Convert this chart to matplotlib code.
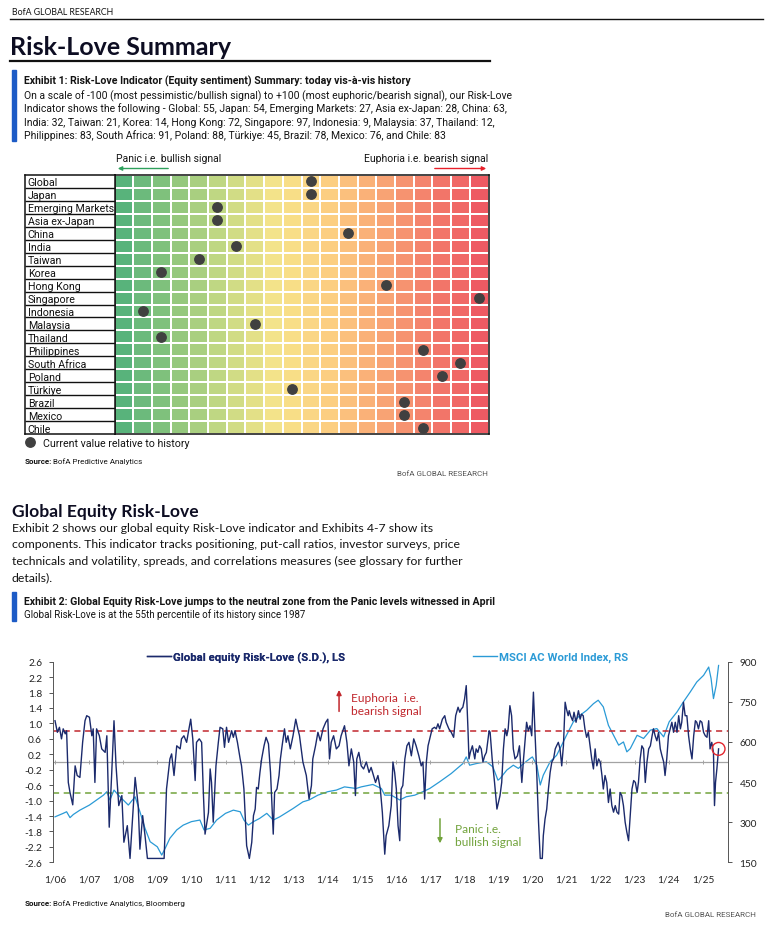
import numpy as np
import matplotlib
matplotlib.use("Agg")
import matplotlib.pyplot as plt
from matplotlib.colors import LinearSegmentedColormap, ListedColormap
from matplotlib.lines import Line2D
from matplotlib.patches import Rectangle, FancyArrowPatch
from matplotlib import font_manager

W, H = 773, 928
installed = {f.name for f in font_manager.fontManager.ttflist}
NARROW = "Liberation Sans Narrow" if "Liberation Sans Narrow" in installed else "Roboto"
SANS = "Lato"
plt.rcParams["font.family"] = [SANS, "DejaVu Sans"]

# ---------------- Exhibit 1 data ----------------
regions = ["Global", "Japan", "Emerging Markets", "Asia ex-Japan", "China", "India",
           "Taiwan", "Korea", "Hong Kong", "Singapore", "Indonesia", "Malaysia",
           "Thailand", "Philippines", "South Africa", "Poland", "Türkiye", "Brazil",
           "Mexico", "Chile"]
# dot positions (bucket centres on the 0-100 grid) as drawn
dot_pos = [52.5, 52.5, 27.5, 27.5, 62.5, 32.5, 22.5, 12.5, 72.5, 97.5, 7.5, 37.5,
           12.5, 82.5, 92.5, 87.5, 47.5, 77.5, 77.5, 82.5]
grid_edges = np.arange(0, 101, 5)

# ---------------- Exhibit 2 data ----------------
rl_dates = [
    2006.00, 2006.07, 2006.13, 2006.19, 2006.24, 2006.30, 2006.34, 2006.39, 2006.44, 2006.52, 2006.59, 2006.65, 2006.73, 2006.81, 2006.88, 2006.93,
    2007.01, 2007.08, 2007.12, 2007.17, 2007.22, 2007.30, 2007.37, 2007.47, 2007.52, 2007.59, 2007.66, 2007.73, 2007.79, 2007.87, 2007.96,
    2008.02, 2008.12, 2008.20, 2008.28, 2008.35, 2008.44, 2008.49, 2008.57, 2008.64, 2008.71, 2008.98,
    2009.20, 2009.27, 2009.37, 2009.42, 2009.49, 2009.57, 2009.67, 2009.71, 2009.78, 2009.86, 2009.91, 2009.98,
    2010.04, 2010.11, 2010.15, 2010.23, 2010.30, 2010.35, 2010.40, 2010.50, 2010.55, 2010.59, 2010.64, 2010.72, 2010.79, 2010.84, 2010.92, 2010.97,
    2011.03, 2011.09, 2011.18, 2011.23, 2011.28, 2011.35, 2011.43, 2011.47, 2011.54, 2011.62, 2011.70, 2011.77, 2011.82, 2011.87, 2011.91, 2011.96,
    2012.01, 2012.06, 2012.13, 2012.19, 2012.26, 2012.32, 2012.40, 2012.44, 2012.51, 2012.57, 2012.61, 2012.66, 2012.73, 2012.78, 2012.83, 2012.90, 2012.98,
    2013.06, 2013.12, 2013.17, 2013.22, 2013.27, 2013.37, 2013.45, 2013.52, 2013.56, 2013.64, 2013.71, 2013.78, 2013.86, 2013.94,
    2014.00, 2014.05, 2014.10, 2014.17, 2014.25, 2014.33, 2014.39, 2014.49, 2014.56, 2014.62, 2014.69, 2014.76, 2014.81, 2014.85, 2014.91, 2014.98,
    2015.05, 2015.13, 2015.21, 2015.27, 2015.34, 2015.40, 2015.47, 2015.54, 2015.60, 2015.67, 2015.71, 2015.79, 2015.86, 2015.91, 2015.96,
    2016.01, 2016.06, 2016.11, 2016.15, 2016.20, 2016.26, 2016.32, 2016.38, 2016.45, 2016.52, 2016.59, 2016.67, 2016.74, 2016.79, 2016.84, 2016.89, 2016.94, 2016.99,
    2017.06, 2017.13, 2017.18, 2017.23, 2017.28, 2017.36, 2017.43, 2017.47, 2017.55, 2017.62, 2017.69, 2017.75, 2017.82, 2017.87, 2017.91, 2017.96,
    2018.01, 2018.06, 2018.11, 2018.14, 2018.18, 2018.24, 2018.31, 2018.35, 2018.40, 2018.45, 2018.50, 2018.55, 2018.60, 2018.65, 2018.73, 2018.76, 2018.82, 2018.89, 2018.96,
    2019.05, 2019.10, 2019.15, 2019.20, 2019.25, 2019.29, 2019.34, 2019.39, 2019.44, 2019.49, 2019.56, 2019.62, 2019.69, 2019.74, 2019.79, 2019.83, 2019.88, 2019.93, 2019.98,
    2020.03, 2020.08, 2020.13, 2020.18, 2020.23, 2020.29, 2020.32, 2020.37, 2020.42, 2020.47, 2020.52, 2020.57, 2020.62, 2020.67, 2020.71, 2020.76, 2020.81, 2020.86, 2020.91, 2020.96,
    2021.00, 2021.05, 2021.08, 2021.12, 2021.18, 2021.22, 2021.28, 2021.35, 2021.40, 2021.44, 2021.49, 2021.54, 2021.59, 2021.64, 2021.69, 2021.74, 2021.79, 2021.84, 2021.89, 2021.94, 2021.99,
    2022.04, 2022.08, 2022.13, 2022.18, 2022.23, 2022.28, 2022.33, 2022.38, 2022.43, 2022.48, 2022.53, 2022.57, 2022.62, 2022.67, 2022.72, 2022.77, 2022.82, 2022.87, 2022.92, 2022.97,
    2023.02, 2023.07, 2023.11, 2023.16, 2023.21, 2023.26, 2023.31, 2023.36, 2023.41, 2023.46, 2023.51, 2023.55, 2023.60, 2023.65, 2023.70, 2023.75, 2023.80, 2023.85, 2023.89, 2023.94, 2023.99,
    2024.04, 2024.09, 2024.14, 2024.19, 2024.24, 2024.29, 2024.34, 2024.38, 2024.43, 2024.48, 2024.53, 2024.58, 2024.63, 2024.68, 2024.73, 2024.78, 2024.82, 2024.87, 2024.92, 2024.97,
    2025.02, 2025.07, 2025.12, 2025.17, 2025.21, 2025.26, 2025.31, 2025.34, 2025.37, 2025.41, 2025.46,
]
rl_values = [
    1.07, 0.77, 0.90, 0.60, 0.86, 0.73, 0.81, -0.53, -0.79, -1.11, -0.10, -0.35, -0.40, 0.51, 1.07, 1.20,
    1.16, 0.68, 0.86, -0.53, 0.86, 0.68, 0.34, 0.25, 0.68, -1.69, -0.35, 1.07, -0.10, -1.13, -0.87,
    -2.08, -1.65, -2.50, -1.39, -0.40, -1.13, -2.26, -1.39, -1.91, -2.50, -2.50,
    -2.50, -0.70, 0.08, 0.21, -0.35, 0.42, 0.34, 0.60, 0.68, 0.51, 0.77, 1.11,
    0.60, -0.48, 0.51, 0.60, 0.51, -0.79, -1.87, -1.31, -0.18, -0.53, -1.56, -0.10, 0.51, 0.90, 0.86, 0.38,
    0.90, 0.51, 0.81, 0.64, 0.81, 0.51, 0.08, -0.10, -0.70, -2.17, -2.50, -2.08, -1.39, -1.22, -0.66, -0.70,
    -0.27, 0.08, 0.42, 0.64, 0.47, -0.27, -1.87, -0.79, -0.70, -0.35, 0.08, 0.42, 0.86, 0.51, 0.68, 0.34, 0.68,
    1.11, 0.86, 0.68, 0.34, 0.00, -0.35, -0.96, -0.61, 0.08, 0.42, 0.77, 0.55, 0.86, 1.03,
    1.11, 0.08, 0.51, 0.68, 0.34, 0.42, 0.68, 0.94, 0.51, -0.10, 0.34, 0.00, -0.87, 0.08, 0.25, -0.10,
    -0.18, 0.00, -0.27, -0.14, -0.35, -0.53, -0.35, -0.70, -1.31, -2.39, -1.91, -1.65, -1.13, 0.00, -0.27,
    -0.70, -1.65, -2.04, -0.70, -0.61, 0.08, 0.42, 0.51, 0.16, 0.60, 0.42, 0.16, -0.10, 0.00, -0.96, 0.00, 0.42, 0.60,
    0.86, 0.90, 0.86, 0.99, 0.86, 1.11, 1.20, 1.03, 0.86, 0.77, 0.64, 1.20, 1.42, 1.29, 1.37, 1.42,
    1.63, 1.98, 0.86, 0.08, 0.25, 0.42, 0.08, 0.34, 0.25, 0.42, 0.34, 0.00, 0.16, 0.25, 0.81, 0.77, 0.08, -0.53, -1.22,
    -0.87, -0.53, 0.34, 0.86, 0.68, 0.86, 1.46, 1.20, 0.34, 0.08, 0.16, 0.42, -0.53, 0.08, 0.60, 1.03, 0.81, 0.94, 0.68,
    1.81, 0.68, -0.35, -1.56, -2.50, -2.50, -1.91, -1.48, -1.22, -0.70, -0.27, 0.00, 0.08, 0.34, 0.42, 0.51, 0.34, -0.10, 0.42, 1.55,
    1.37, 1.20, 1.33, 1.20, 1.07, 1.29, 1.03, 1.33, 1.11, 1.24, 1.20, 0.86, 0.64, 0.77, 0.42, 0.08, -0.18, 0.34, -0.10, 0.08, 0.00,
    -0.35, -0.70, -0.35, -0.53, -1.05, -0.70, -1.13, -1.30, -1.13, -1.30, -1.35, -0.79, -0.87, -1.13, -1.56, -1.82, -2.04, -1.39, -0.70, -0.48,
    -0.53, -0.79, -0.53, 0.08, 0.42, 0.34, -0.53, 0.00, 0.34, 0.42, 0.68, 0.86, 0.68, 0.55, 0.77, 0.34, 0.16, 0.00, -0.35, 0.08, 0.68,
    0.86, 1.03, 0.77, 1.03, 0.77, 1.20, 0.86, 1.03, 1.55, 1.20, 1.20, 0.68, 0.34, 0.08, 0.68, 1.07, 1.03, 0.86, 1.07, 1.03,
    0.77, 0.68, 0.64, 1.07, 0.34, 0.51, 0.25, -1.13, -0.53, -0.18, 0.34,
]
msci_dates = [
    2006.00, 2006.24, 2006.34, 2006.44, 2006.54, 2006.73, 2007.01, 2007.22, 2007.42, 2007.52, 2007.61, 2007.73, 2007.86,
    2008.00, 2008.15, 2008.35, 2008.49, 2008.64, 2008.79, 2009.00, 2009.13, 2009.23, 2009.37, 2009.57, 2009.76,
    2010.00, 2010.25, 2010.37, 2010.55, 2010.74, 2011.00, 2011.23, 2011.43, 2011.54, 2011.67, 2011.82,
    2012.00, 2012.21, 2012.40, 2012.59, 2012.98, 2013.27, 2013.45, 2013.71, 2014.00, 2014.25, 2014.49, 2014.83, 2014.98,
    2015.32, 2015.57, 2015.67, 2015.86, 2016.11, 2016.30, 2016.55, 2016.79, 2016.99, 2017.28, 2017.62, 2017.96,
    2018.06, 2018.16, 2018.35, 2018.65, 2018.84, 2018.99, 2019.05, 2019.25, 2019.44, 2019.59, 2019.74, 2019.93,
    2020.00, 2020.13, 2020.23, 2020.32, 2020.52, 2020.71, 2020.86, 2021.00, 2021.20, 2021.40, 2021.59, 2021.79, 2021.93,
    2022.08, 2022.23, 2022.38, 2022.53, 2022.67, 2022.77, 2022.87, 2023.07, 2023.26, 2023.46, 2023.65, 2023.85,
    2024.01, 2024.24, 2024.43, 2024.63, 2024.82, 2025.02, 2025.17, 2025.24, 2025.31, 2025.39, 2025.46,
]
msci_values = [
    320, 333, 339, 317, 329, 345, 364, 383, 401, 414, 383, 420, 401,
    383, 364, 395, 339, 277, 227, 208, 177, 202, 240, 271, 289,
    302, 308, 271, 277, 308, 333, 345, 339, 308, 289, 302,
    314, 333, 308, 320, 351, 376, 383, 401, 414, 420, 432, 426, 432,
    441, 426, 401, 401, 383, 395, 401, 414, 426, 451, 482, 519,
    544, 513, 519, 526, 507, 457, 463, 495, 513, 501, 519, 538,
    544, 513, 439, 476, 526, 550, 588, 625, 675, 700, 718, 743, 756,
    731, 662, 625, 588, 600, 563, 575, 625, 613, 644, 650, 619,
    675, 712, 750, 787, 824, 849, 880, 837, 762, 812, 886,
]
years = np.arange(2006, 2026)
left_ticks = np.round(np.arange(-2.6, 2.61, 0.4), 1)
right_ticks = [150, 300, 450, 600, 750, 900]
euphoria_level, panic_level = 0.8, -0.8

fig = plt.figure(figsize=(W / 100, H / 100), dpi=100)


def fx(x):
    return x / W


def fy(y):
    return 1 - y / H


def box(x0, y0, x1, y1):
    return [x0 / W, 1 - y1 / H, (x1 - x0) / W, (y1 - y0) / H]


def put(x, y, s, size, family=NARROW, weight="normal", color="#141414", ha="left", va="baseline"):
    return fig.text(fx(x), fy(y), s, fontsize=size, family=family, fontweight=weight,
                    color=color, ha=ha, va=va)


def rule(x0, x1, y, lw, color="#111111"):
    fig.add_artist(Line2D([fx(x0), fx(x1)], [fy(y), fy(y)], lw=lw, color=color))


def bar(y0, y1):
    fig.add_artist(Rectangle((fx(12), fy(y1)), 4 / W, (y1 - y0) / H, color="#1d5bc6",
                             transform=fig.transFigure))


def source(x, y, rest):
    t = put(x, y, "Source:", 5.8, weight="bold")
    bb = t.get_window_extent(fig.canvas.get_renderer())
    put(bb.x1 + 1, y, rest, 5.8)


# ---------------- page header ----------------
put(12, 15, "BofA GLOBAL RESEARCH", 6.3, family=SANS)
rule(10, 763, 20, 1.0)
put(10, 55, "Risk-Love Summary", 18, family=SANS, weight="bold", color="#0d0d22")
rule(10, 490, 62, 1.6)

bar(71, 142)
put(24, 85, "Exhibit 1: Risk-Love Indicator (Equity sentiment) Summary: today vis-à-vis history",
    7.6, weight="bold")
desc = ["On a scale of -100 (most pessimistic/bullish signal) to +100 (most euphoric/bearish signal), our Risk-Love",
        "Indicator shows the following - Global: 55, Japan: 54, Emerging Markets: 27, Asia ex-Japan: 28, China: 63,",
        "India: 32, Taiwan: 21, Korea: 14, Hong Kong: 72, Singapore: 97, Indonesia: 9, Malaysia: 37, Thailand: 12,",
        "Philippines: 83, South Africa: 91, Poland: 88, Türkiye: 45, Brazil: 78, Mexico: 76, and Chile: 83"]
for i, line in enumerate(desc):
    put(24, 99.3 + 13.2 * i, line, 7.5)

# ---------------- Exhibit 1 grid ----------------
put(116, 162, "Panic i.e. bullish signal", 7.5)
put(488, 162, "Euphoria i.e. bearish signal", 7.5, ha="right")
fig.add_artist(FancyArrowPatch((fx(171), fy(169.5)), (fx(115), fy(169.5)),
               arrowstyle="-|>", mutation_scale=6, color="#2ea05c", lw=1.0,
               transform=fig.transFigure))
fig.add_artist(FancyArrowPatch((fx(432), fy(169.5)), (fx(489), fy(169.5)),
               arrowstyle="-|>", mutation_scale=6, color="#e8202a", lw=1.0,
               transform=fig.transFigure))

n = len(regions)
heat_cmap = LinearSegmentedColormap.from_list(
    "rl", ["#58b37b", "#8fc67d", "#c8da84", "#f6e48a", "#fcd082", "#f9aa75", "#f3806c", "#ee5a63"])
col_colors = ListedColormap(heat_cmap(np.linspace(0, 1, len(grid_edges) - 1)))

hx = fig.add_axes(box(114.5, 176, 488.5, 435))
cells = np.tile(np.arange(len(grid_edges) - 1), (n, 1))
hx.pcolormesh(grid_edges, np.arange(n + 1), cells, cmap=col_colors,
              edgecolors="white", linewidth=1.3)
hx.scatter(dot_pos, np.arange(n) + 0.5, s=46, color="#404040", zorder=3)
hx.set_xlim(0, 100)
hx.set_ylim(n, 0)
hx.set_xticks([])
hx.set_yticks([])
for sp in hx.spines.values():
    sp.set_color("#111111")
    sp.set_linewidth(1.1)

lx = fig.add_axes(box(25, 176, 114.5, 435))
lx.set_xlim(0, 1)
lx.set_ylim(n, 0)
lx.hlines(np.arange(1, n), 0, 1, color="#111111", lw=1.0)
for i, name in enumerate(regions):
    lx.text(0.03, i + 0.5, name, fontsize=7.7, family=NARROW, va="center_baseline", color="#111111")
lx.set_xticks([])
lx.set_yticks([])
for sp in lx.spines.values():
    sp.set_color("#111111")
    sp.set_linewidth(1.1)

# legend under grid
gx = fig.add_axes(box(25, 436, 114.5, 449))
gx.set_axis_off()
gx.set_xlim(0, 1)
gx.set_ylim(0, 1)
gx.scatter([0.055], [0.5], s=46, color="#404040")
put(43, 447.5, "Current value relative to history", 7.7)
source(25, 464, "BofA Predictive Analytics")
put(488, 476, "BofA GLOBAL RESEARCH", 5.8, color="#555555", ha="right")

# ---------------- section 2 text ----------------
put(12, 516.7, "Global Equity Risk-Love", 12.6, family=SANS, weight="bold", color="#0d0d22")
body = ["Exhibit 2 shows our global equity Risk-Love indicator and Exhibits 4-7 show its",
        "components. This indicator tracks positioning, put-call ratios, investor surveys, price",
        "technicals and volatility, spreads, and correlations measures (see glossary for further",
        "details)."]
for i, line in enumerate(body):
    put(12, 531.7 + 16.6 * i, line, 8.8, family=SANS)

bar(593, 622)
put(24, 605, "Exhibit 2: Global Equity Risk-Love jumps to the neutral zone from the Panic levels witnessed in April",
    7.55, weight="bold")
put(24, 618.3, "Global Risk-Love is at the 55th percentile of its history since 1987", 7.0)

# ---------------- Exhibit 2 chart ----------------
navy, sky = "#1b2a6c", "#2a9ad6"
red, green = "#c1272d", "#72a33c"

ax = fig.add_axes(box(53.3, 662.7, 728.3, 863.3))
ax2 = ax.twinx()
ax.set_zorder(ax2.get_zorder() + 1)
ax.patch.set_visible(False)

ax2.plot(msci_dates, msci_values, color=sky, lw=0.9)
ax.axhline(0, color="#a3a3a3", lw=0.9, zorder=1)
ax.vlines(years, -0.05, 0.05, color="#a3a3a3", lw=0.7, zorder=1)
ax.plot(rl_dates, rl_values, color=navy, lw=1.0, zorder=3)
ax.axhline(euphoria_level, color=red, lw=1.1, ls=(0, (4, 3)), zorder=2)
ax.axhline(panic_level, color=green, lw=1.1, ls=(0, (4, 3)), zorder=2)
ax.scatter(rl_dates[-1], rl_values[-1], s=85, facecolors="none", edgecolors="#e3262e", lw=1.0, zorder=5)

ax.set_xlim(2005.95, 2025.745)
ax.set_ylim(-2.6, 2.6)
ax2.set_ylim(150, 900)
ax.set_yticks(left_ticks)
ax.set_yticklabels([f"{v:.1f}" for v in left_ticks])
ax2.set_yticks(right_ticks)
ax.set_xticks(years)
ax.set_xticklabels([f"1/{y % 100:02d}" for y in years])
ax.tick_params(axis="x", length=0, pad=9, labelsize=7.3, labelcolor="#222222")
ax.tick_params(axis="y", length=3, width=0.7, color="#555555", labelsize=7.3, labelcolor="#222222", pad=5)
ax2.tick_params(axis="y", length=3, width=0.7, color="#555555", labelsize=7.3, labelcolor="#222222", pad=5)
for a in (ax, ax2):
    for side in ("top", "bottom"):
        a.spines[side].set_visible(False)
ax.spines["right"].set_visible(False)
ax2.spines["left"].set_visible(False)
ax.spines["left"].set_color("#555555")
ax2.spines["right"].set_color("#555555")
ax.spines["left"].set_linewidth(0.7)
ax2.spines["right"].set_linewidth(0.7)

ax.annotate("", xy=(2014.33, 1.94), xytext=(2014.33, 1.24),
            arrowprops=dict(arrowstyle="-|>", color=red, lw=1.1, mutation_scale=7))
ax.text(2014.67, 1.50, "Euphoria  i.e.\nbearish signal", color=red, fontsize=8.6,
        va="center", linespacing=1.25)
ax.annotate("", xy=(2017.29, -2.18), xytext=(2017.29, -1.40),
            arrowprops=dict(arrowstyle="-|>", color=green, lw=1.1, mutation_scale=7))
ax.text(2017.73, -1.89, "Panic i.e.\nbullish signal", color=green, fontsize=8.6,
        va="center", linespacing=1.25)

leg_font = dict(family=NARROW, weight="bold", size=8.2)
l1 = fig.legend(handles=[Line2D([], [], color=navy, lw=1.0)],
                labels=["Global equity Risk-Love (S.D.), LS"], loc="center left",
                bbox_to_anchor=(fx(147), fy(658)), frameon=False, prop=leg_font,
                handlelength=2.1, handletextpad=0.15, borderpad=0, borderaxespad=0,
                labelcolor=navy)
fig.legend(handles=[Line2D([], [], color=sky, lw=1.0)],
           labels=["MSCI AC World Index, RS"], loc="center left",
           bbox_to_anchor=(fx(473), fy(658)), frameon=False, prop=leg_font,
           handlelength=2.1, handletextpad=0.15, borderpad=0, borderaxespad=0,
           labelcolor=sky)
fig.add_artist(l1)

source(25, 906, "BofA Predictive Analytics, Bloomberg")
put(756, 917, "BofA GLOBAL RESEARCH", 5.8, color="#555555", ha="right")

fig.savefig("out.png", dpi=100)
